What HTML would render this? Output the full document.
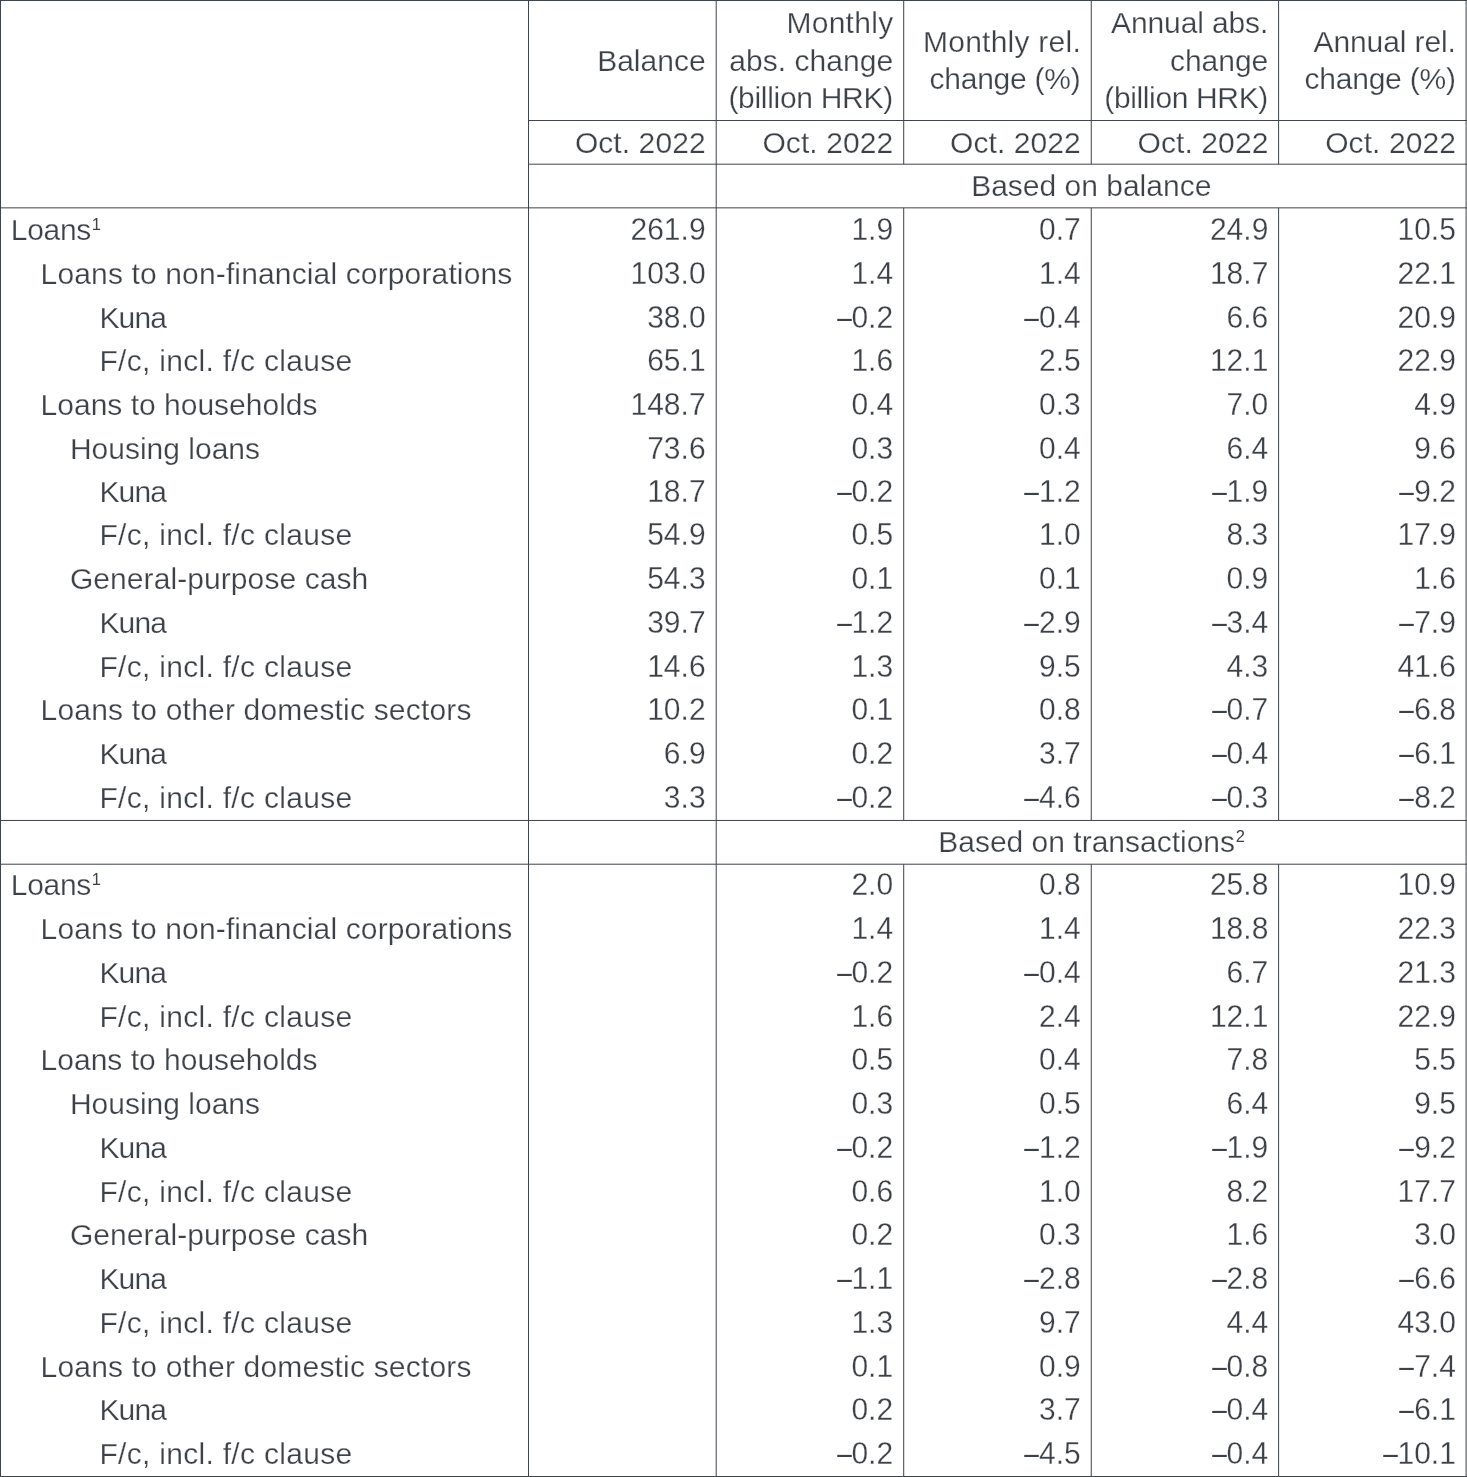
<!DOCTYPE html>
<html lang="en">
<head>
<meta charset="utf-8">
<title>Loans</title>
<style>
html,body{margin:0;padding:0;background:#fff;}
body{width:1467px;height:1477px;overflow:hidden;position:relative;font-family:"Liberation Sans",Arial,sans-serif;font-size:30px;color:#3d4248;}
#t{position:absolute;left:0;top:0;width:1467px;height:1477px;overflow:hidden;-webkit-text-stroke:0.25px #fff;}
.r{position:absolute;left:0;width:1467px;height:43.75px;line-height:43.75px;white-space:nowrap;}
.r>div{position:absolute;top:0;height:43.75px;}
.l{left:0;width:528px;text-align:left;}
.i0{padding-left:10.8px}.i1{padding-left:40.6px}.i2{padding-left:69.9px}.i3{padding-left:99.4px}
.a{letter-spacing:-.3px}.b{letter-spacing:.14px}.c{letter-spacing:-.85px}.d{letter-spacing:.3px}.e{letter-spacing:.08px}.f{letter-spacing:.19px}
.n{width:187.58px;text-align:right;box-sizing:border-box;padding-right:10.5px;transform:scaleY(1.015);transform-origin:0 32px;}
.k1{left:528.5px}.k2{left:716.08px}.k3{left:903.66px}.k4{left:1091.24px}.k5{left:1278.82px}
.o{transform:none;letter-spacing:.08px;padding-right:10.4px}
.span4{left:716.08px;width:750.3px;text-align:center;}
sup{font-size:16.5px;line-height:0;vertical-align:baseline;position:relative;top:-9.6px;left:.8px;letter-spacing:0;-webkit-text-stroke:0;}
.m{display:inline-block;transform:scaleX(.87);transform-origin:100% 50%;-webkit-text-stroke:0;}
.h{position:absolute;top:1px;height:118.6px;width:187.58px;box-sizing:border-box;padding-right:10.5px;display:flex;align-items:center;justify-content:flex-end;text-align:right;line-height:37.3px;white-space:nowrap;}
.h i{font-style:normal;display:inline-block}
svg{position:absolute;left:0;top:0;}
</style>
</head>
<body>
<div id="t">
<div class="h k1"><span>Balance</span></div>
<div class="h k2"><span><i style="letter-spacing:0.28px;margin-right:-0.28px">Monthly</i><br><i style="letter-spacing:0.05px;margin-right:-0.05px">abs. change</i><br><i style="letter-spacing:-0.3px;margin-right:0.3px">(billion HRK)</i></span></div>
<div class="h k3"><span><i style="letter-spacing:0.24px;margin-right:-0.24px">Monthly rel.</i><br><i style="letter-spacing:-0.24px;margin-right:0.24px">change (%)</i></span></div>
<div class="h k4"><span><i style="letter-spacing:-0.12px;margin-right:0.12px">Annual abs.</i><br>change<br><i style="letter-spacing:-0.36px;margin-right:0.36px">(billion HRK)</i></span></div>
<div class="h k5"><span><i style="letter-spacing:-0.1px;margin-right:0.1px">Annual rel.</i><br><i style="letter-spacing:-0.22px;margin-right:0.22px">change (%)</i></span></div>
<div class="r" style="top:121.00px"><div class="n o k1">Oct. 2022</div><div class="n o k2">Oct. 2022</div><div class="n o k3">Oct. 2022</div><div class="n o k4">Oct. 2022</div><div class="n o k5">Oct. 2022</div></div>
<div class="r" style="top:164.00px"><div class="span4">Based on balance</div></div>
<div class="r" style="top:208.00px"><div class="l i0 a">Loans<sup>1</sup></div><div class="n k1">261.9</div><div class="n k2">1.9</div><div class="n k3">0.7</div><div class="n k4">24.9</div><div class="n k5">10.5</div></div>
<div class="r" style="top:252.00px"><div class="l i1 b">Loans to non-financial corporations</div><div class="n k1">103.0</div><div class="n k2">1.4</div><div class="n k3">1.4</div><div class="n k4">18.7</div><div class="n k5">22.1</div></div>
<div class="r" style="top:296.00px"><div class="l i3 c">Kuna</div><div class="n k1">38.0</div><div class="n k2"><span class="m">–</span>0.2</div><div class="n k3"><span class="m">–</span>0.4</div><div class="n k4">6.6</div><div class="n k5">20.9</div></div>
<div class="r" style="top:339.00px"><div class="l i3 d">F/c, incl. f/c clause</div><div class="n k1">65.1</div><div class="n k2">1.6</div><div class="n k3">2.5</div><div class="n k4">12.1</div><div class="n k5">22.9</div></div>
<div class="r" style="top:383.00px"><div class="l i1">Loans to households</div><div class="n k1">148.7</div><div class="n k2">0.4</div><div class="n k3">0.3</div><div class="n k4">7.0</div><div class="n k5">4.9</div></div>
<div class="r" style="top:427.00px"><div class="l i2">Housing loans</div><div class="n k1">73.6</div><div class="n k2">0.3</div><div class="n k3">0.4</div><div class="n k4">6.4</div><div class="n k5">9.6</div></div>
<div class="r" style="top:470.00px"><div class="l i3 c">Kuna</div><div class="n k1">18.7</div><div class="n k2"><span class="m">–</span>0.2</div><div class="n k3"><span class="m">–</span>1.2</div><div class="n k4"><span class="m">–</span>1.9</div><div class="n k5"><span class="m">–</span>9.2</div></div>
<div class="r" style="top:513.00px"><div class="l i3 d">F/c, incl. f/c clause</div><div class="n k1">54.9</div><div class="n k2">0.5</div><div class="n k3">1.0</div><div class="n k4">8.3</div><div class="n k5">17.9</div></div>
<div class="r" style="top:557.00px"><div class="l i2 e">General-purpose cash</div><div class="n k1">54.3</div><div class="n k2">0.1</div><div class="n k3">0.1</div><div class="n k4">0.9</div><div class="n k5">1.6</div></div>
<div class="r" style="top:601.00px"><div class="l i3 c">Kuna</div><div class="n k1">39.7</div><div class="n k2"><span class="m">–</span>1.2</div><div class="n k3"><span class="m">–</span>2.9</div><div class="n k4"><span class="m">–</span>3.4</div><div class="n k5"><span class="m">–</span>7.9</div></div>
<div class="r" style="top:645.00px"><div class="l i3 d">F/c, incl. f/c clause</div><div class="n k1">14.6</div><div class="n k2">1.3</div><div class="n k3">9.5</div><div class="n k4">4.3</div><div class="n k5">41.6</div></div>
<div class="r" style="top:688.00px"><div class="l i1 f">Loans to other domestic sectors</div><div class="n k1">10.2</div><div class="n k2">0.1</div><div class="n k3">0.8</div><div class="n k4"><span class="m">–</span>0.7</div><div class="n k5"><span class="m">–</span>6.8</div></div>
<div class="r" style="top:732.00px"><div class="l i3 c">Kuna</div><div class="n k1">6.9</div><div class="n k2">0.2</div><div class="n k3">3.7</div><div class="n k4"><span class="m">–</span>0.4</div><div class="n k5"><span class="m">–</span>6.1</div></div>
<div class="r" style="top:776.00px"><div class="l i3 d">F/c, incl. f/c clause</div><div class="n k1">3.3</div><div class="n k2"><span class="m">–</span>0.2</div><div class="n k3"><span class="m">–</span>4.6</div><div class="n k4"><span class="m">–</span>0.3</div><div class="n k5"><span class="m">–</span>8.2</div></div>
<div class="r" style="top:820.00px"><div class="span4">Based on transactions<sup>2</sup></div></div>
<div class="r" style="top:863.00px"><div class="l i0 a">Loans<sup>1</sup></div><div class="n k2">2.0</div><div class="n k3">0.8</div><div class="n k4">25.8</div><div class="n k5">10.9</div></div>
<div class="r" style="top:907.00px"><div class="l i1 b">Loans to non-financial corporations</div><div class="n k2">1.4</div><div class="n k3">1.4</div><div class="n k4">18.8</div><div class="n k5">22.3</div></div>
<div class="r" style="top:951.00px"><div class="l i3 c">Kuna</div><div class="n k2"><span class="m">–</span>0.2</div><div class="n k3"><span class="m">–</span>0.4</div><div class="n k4">6.7</div><div class="n k5">21.3</div></div>
<div class="r" style="top:995.00px"><div class="l i3 d">F/c, incl. f/c clause</div><div class="n k2">1.6</div><div class="n k3">2.4</div><div class="n k4">12.1</div><div class="n k5">22.9</div></div>
<div class="r" style="top:1038.00px"><div class="l i1">Loans to households</div><div class="n k2">0.5</div><div class="n k3">0.4</div><div class="n k4">7.8</div><div class="n k5">5.5</div></div>
<div class="r" style="top:1082.00px"><div class="l i2">Housing loans</div><div class="n k2">0.3</div><div class="n k3">0.5</div><div class="n k4">6.4</div><div class="n k5">9.5</div></div>
<div class="r" style="top:1126.00px"><div class="l i3 c">Kuna</div><div class="n k2"><span class="m">–</span>0.2</div><div class="n k3"><span class="m">–</span>1.2</div><div class="n k4"><span class="m">–</span>1.9</div><div class="n k5"><span class="m">–</span>9.2</div></div>
<div class="r" style="top:1170.00px"><div class="l i3 d">F/c, incl. f/c clause</div><div class="n k2">0.6</div><div class="n k3">1.0</div><div class="n k4">8.2</div><div class="n k5">17.7</div></div>
<div class="r" style="top:1213.00px"><div class="l i2 e">General-purpose cash</div><div class="n k2">0.2</div><div class="n k3">0.3</div><div class="n k4">1.6</div><div class="n k5">3.0</div></div>
<div class="r" style="top:1257.00px"><div class="l i3 c">Kuna</div><div class="n k2"><span class="m">–</span>1.1</div><div class="n k3"><span class="m">–</span>2.8</div><div class="n k4"><span class="m">–</span>2.8</div><div class="n k5"><span class="m">–</span>6.6</div></div>
<div class="r" style="top:1301.00px"><div class="l i3 d">F/c, incl. f/c clause</div><div class="n k2">1.3</div><div class="n k3">9.7</div><div class="n k4">4.4</div><div class="n k5">43.0</div></div>
<div class="r" style="top:1345.00px"><div class="l i1 f">Loans to other domestic sectors</div><div class="n k2">0.1</div><div class="n k3">0.9</div><div class="n k4"><span class="m">–</span>0.8</div><div class="n k5"><span class="m">–</span>7.4</div></div>
<div class="r" style="top:1388.00px"><div class="l i3 c">Kuna</div><div class="n k2">0.2</div><div class="n k3">3.7</div><div class="n k4"><span class="m">–</span>0.4</div><div class="n k5"><span class="m">–</span>6.1</div></div>
<div class="r" style="top:1432.00px"><div class="l i3 d">F/c, incl. f/c clause</div><div class="n k2"><span class="m">–</span>0.2</div><div class="n k3"><span class="m">–</span>4.5</div><div class="n k4"><span class="m">–</span>0.4</div><div class="n k5"><span class="m">–</span>10.1</div></div>
<svg width="1467" height="1477" viewBox="0 0 1467 1477">
<rect x="0" y="0.00" width="1467" height="1" fill="#3f444a"/>
<rect x="528" y="120.00" width="939" height="1" fill="#3f444a"/>
<rect x="528" y="163.68" width="939" height="1" fill="#3f444a"/>
<rect x="0" y="207.35" width="1467" height="1" fill="#3f444a"/>
<rect x="0" y="819.95" width="1467" height="1" fill="#3f444a"/>
<rect x="0" y="863.70" width="1467" height="1" fill="#3f444a"/>
<rect x="0" y="1476.00" width="1467" height="1" fill="#3f444a"/>
<rect x="0.00" y="0" width="1" height="1477" fill="#3f444a"/>
<rect x="528.00" y="0" width="1" height="1477" fill="#3f444a"/>
<rect x="715.70" y="0" width="1" height="1477" fill="#3f444a"/>
<rect x="903.20" y="0" width="1" height="164.18" fill="#3f444a"/>
<rect x="903.20" y="207.85" width="1" height="612.6" fill="#3f444a"/>
<rect x="903.20" y="864.2" width="1" height="612.8" fill="#3f444a"/>
<rect x="1090.75" y="0" width="1" height="164.18" fill="#3f444a"/>
<rect x="1090.75" y="207.85" width="1" height="612.6" fill="#3f444a"/>
<rect x="1090.75" y="864.2" width="1" height="612.8" fill="#3f444a"/>
<rect x="1278.10" y="0" width="1" height="164.18" fill="#3f444a"/>
<rect x="1278.10" y="207.85" width="1" height="612.6" fill="#3f444a"/>
<rect x="1278.10" y="864.2" width="1" height="612.8" fill="#3f444a"/>
<rect x="1465.60" y="0" width="1" height="1477" fill="#3f444a"/>
</svg>
</div>
</body>
</html>
